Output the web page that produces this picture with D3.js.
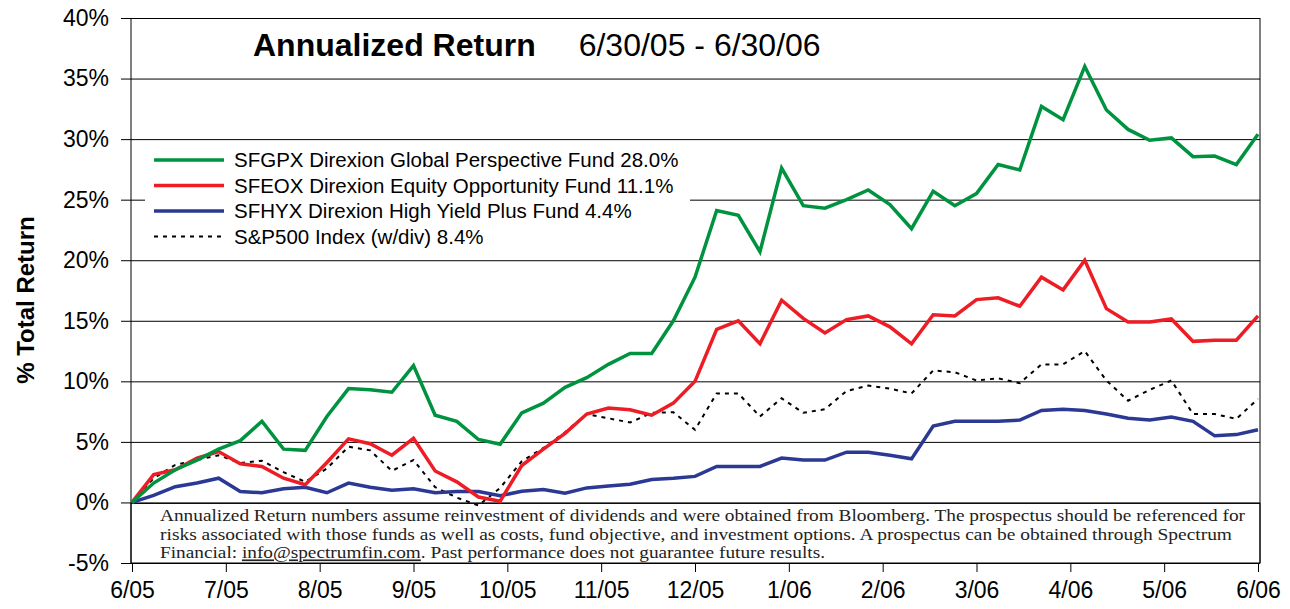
<!DOCTYPE html>
<html>
<head>
<meta charset="utf-8">
<script src="https://cdn.jsdelivr.net/npm/d3@7"></script>
<style>
  body { margin: 0; background: #fff; }
  text { font-family: "Liberation Sans", Arial, sans-serif; }
  .axis path { display: none; }
  .axis line { stroke: #000; }
  .grid line { stroke: #000; stroke-width: 1; }
  .grid path { display: none; }
  .note text { font-family: "Liberation Serif", "Times New Roman", serif; font-size: 17px; fill: #222; }
</style>
</head>
<body>
<div id="chart"></div>
<script>
// weekly readings, 6/30/05 .. 6/29/06 (53 points)
const sfgpx = [0, 1.6, 2.7, 3.5, 4.4, 5.1, 6.7, 4.4, 4.3, 7.1, 9.4, 9.3, 9.1, 11.3, 7.2, 6.7, 5.2, 4.8,
  7.4, 8.2, 9.5, 10.3, 11.4, 12.3, 12.3, 15.0, 18.6, 24.1, 23.7, 20.7, 27.6, 24.5, 24.3, 25.0, 25.8,
  24.6, 22.6, 25.7, 24.5, 25.5, 27.9, 27.45, 32.7, 31.6, 36.0, 32.4, 30.8, 29.9, 30.1, 28.55, 28.6, 27.9, 30.4];
const sfeox = [0, 2.3, 2.7, 3.65, 4.2, 3.2, 2.97, 2.0, 1.46, 3.3, 5.25, 4.85, 3.9, 5.3, 2.6, 1.7, 0.45, 0.1,
  3.05, 4.4, 5.7, 7.3, 7.8, 7.65, 7.2, 8.2, 10.0, 14.3, 15.0, 13.1, 16.7, 15.2, 14.0, 15.1, 15.4,
  14.5, 13.1, 15.5, 15.4, 16.75, 16.9, 16.2, 18.6, 17.55, 20.0, 16.0, 14.9, 14.9, 15.15, 13.3, 13.4, 13.4, 15.4];
const sfhyx = [0, 0.58, 1.3, 1.6, 2.0, 0.9, 0.8, 1.13, 1.26, 0.8, 1.6, 1.26, 1.0, 1.13, 0.8, 0.9, 0.9, 0.55,
  0.93, 1.07, 0.77, 1.2, 1.35, 1.5, 1.9, 2.0, 2.15, 2.97, 2.97, 2.97, 3.66, 3.5, 3.5, 4.15, 4.15,
  3.9, 3.6, 6.3, 6.7, 6.7, 6.7, 6.8, 7.6, 7.7, 7.6, 7.3, 6.95, 6.8, 7.05, 6.7, 5.5, 5.6, 6.0];
const sp500 = [0, 2.0, 3.1, 3.5, 3.9, 3.25, 3.45, 2.5, 1.7, 2.8, 4.6, 4.3, 2.6, 3.5, 1.26, 0.4, -0.25, 1.2,
  3.4, 4.5, 5.8, 7.3, 6.95, 6.6, 7.4, 7.45, 6.0, 9.0, 9.0, 7.1, 8.6, 7.4, 7.7, 9.2, 9.65,
  9.4, 9.0, 10.9, 10.75, 10.07, 10.25, 9.85, 11.4, 11.4, 12.5, 10.07, 8.4, 9.3, 10.07, 7.3, 7.3, 6.9, 8.55];

const monthLabels = ["6/05", "7/05", "8/05", "9/05", "10/05", "11/05", "12/05",
  "1/06", "2/06", "3/06", "4/06", "5/06", "6/06"];
const yTicks = [-5, 0, 5, 10, 15, 20, 25, 30, 35, 40];

const seriesNames = [
  "SFGPX Direxion Global Perspective Fund 28.0%",
  "SFEOX Direxion Equity Opportunity Fund 11.1%",
  "SFHYX Direxion High Yield Plus Fund 4.4%",
  "S&P500 Index (w/div) 8.4%"
];
const noteLines = [
  "Annualized Return numbers assume reinvestment of dividends and were obtained from Bloomberg. The prospectus should be referenced for",
  "risks associated with those funds as well as costs, fund objective, and investment options. A prospectus can be obtained through Spectrum"
];

const margin = { top: 18, right: 30, bottom: 46, left: 131 };
const width = 1290 - margin.left - margin.right;
const height = 609 - margin.top - margin.bottom;

const root = d3.select("#chart").append("svg")
  .attr("width", 1290)
  .attr("height", 609);

const svg = root.append("g")
  .attr("transform", `translate(${margin.left},${margin.top})`);

const weeks = sfgpx.length - 1;
const xScale = d3.scaleLinear().domain([0, weeks]).range([1, width - 2]);
const yScale = d3.scaleLinear().domain([-5, 40]).range([height, 0]);

// gridlines
svg.append("g")
  .attr("class", "grid")
  .call(d3.axisLeft(yScale).tickValues(yTicks).tickSize(-width).tickFormat(""));

// y axis
svg.append("g")
  .attr("class", "axis")
  .call(d3.axisLeft(yScale).tickValues(yTicks).tickSize(10).tickPadding(12).tickFormat(d => d + "%"))
  .selectAll("text")
  .style("font-size", "23px")
  .attr("fill", "#000");

// x axis
const monthPos = monthLabels.map((m, i) => i * weeks / 12);
svg.append("g")
  .attr("class", "axis")
  .attr("transform", `translate(0,${height})`)
  .call(d3.axisBottom(xScale).tickValues(monthPos).tickSize(9).tickPadding(10)
    .tickFormat((d, i) => monthLabels[i]))
  .selectAll("text")
  .style("font-size", "23px")
  .attr("fill", "#000");

// note box
svg.append("rect")
  .attr("x", 0)
  .attr("y", yScale(0) + 1)
  .attr("width", width)
  .attr("height", yScale(-5) - yScale(0) - 1)
  .attr("fill", "#fff")
  .attr("stroke", "#000")
  .attr("stroke-width", 1);

// frame sides
svg.append("line").attr("x1", 0).attr("x2", 0).attr("y1", 0).attr("y2", height).attr("stroke", "#000");
svg.append("line").attr("x1", width).attr("x2", width).attr("y1", 0).attr("y2", height).attr("stroke", "#000");

const note = svg.append("g").attr("class", "note");
const noteWidths = [1085, 1072, 665];
noteLines.forEach((t, i) => {
  note.append("text")
    .attr("x", 29)
    .attr("y", yScale(0) + 19 + i * 18.5)
    .attr("textLength", noteWidths[i])
    .attr("lengthAdjust", "spacingAndGlyphs")
    .text(t);
});
const last = note.append("text")
  .attr("x", 29)
  .attr("y", yScale(0) + 19 + 2 * 18.5)
  .attr("textLength", noteWidths[2])
  .attr("lengthAdjust", "spacingAndGlyphs");
last.append("tspan").text("Financial: ");
last.append("tspan").attr("text-decoration", "underline").text("info@spectrumfin.com");
last.append("tspan").text(". Past performance does not guarantee future results.");

// legend background
svg.append("rect")
  .attr("x", 14).attr("y", 128)
  .attr("width", 545).attr("height", 104)
  .attr("fill", "#fff");

const series = [
  { name: seriesNames[0], values: sfgpx, color: "#00933f", width: 3.5, dash: null },
  { name: seriesNames[1], values: sfeox, color: "#ee1c25", width: 3.5, dash: null },
  { name: seriesNames[2], values: sfhyx, color: "#2b3894", width: 3.5, dash: null },
  { name: seriesNames[3], values: sp500, color: "#000", width: 2, dash: "4,5" }
];

const line = d3.line()
  .x((d, i) => xScale(i))
  .y(d => yScale(d));

// draw index first so funds sit on top
[3, 2, 1, 0].forEach(k => {
  const s = series[k];
  svg.append("path")
    .datum(s.values)
    .attr("fill", "none")
    .attr("stroke", s.color)
    .attr("stroke-width", s.width)
    .attr("stroke-dasharray", s.dash)
    .attr("stroke-linejoin", "miter")
    .attr("d", line);
});

// legend
const legend = svg.append("g").attr("transform", "translate(23,142)");
series.forEach((s, i) => {
  const row = legend.append("g").attr("transform", `translate(0,${i * 25.5})`);
  row.append("line")
    .attr("x1", 0).attr("x2", 70)
    .attr("stroke", s.color)
    .attr("stroke-width", s.width)
    .attr("stroke-dasharray", s.dash);
  row.append("text")
    .attr("x", 80)
    .attr("dy", "0.35em")
    .style("font-size", "20.5px")
    .text(s.name);
});

// title
const title = root.append("text")
  .attr("x", 253)
  .attr("y", 56)
  .style("font-size", "32px");
title.append("tspan").attr("font-weight", "bold").text("Annualized Return");
title.append("tspan").attr("dx", 43).text("6/30/05 - 6/30/06");

// y title
root.append("text")
  .attr("transform", "translate(34,300) rotate(-90)")
  .attr("text-anchor", "middle")
  .attr("font-weight", "bold")
  .style("font-size", "24px")
  .text("% Total Return");
</script>
</body>
</html>
